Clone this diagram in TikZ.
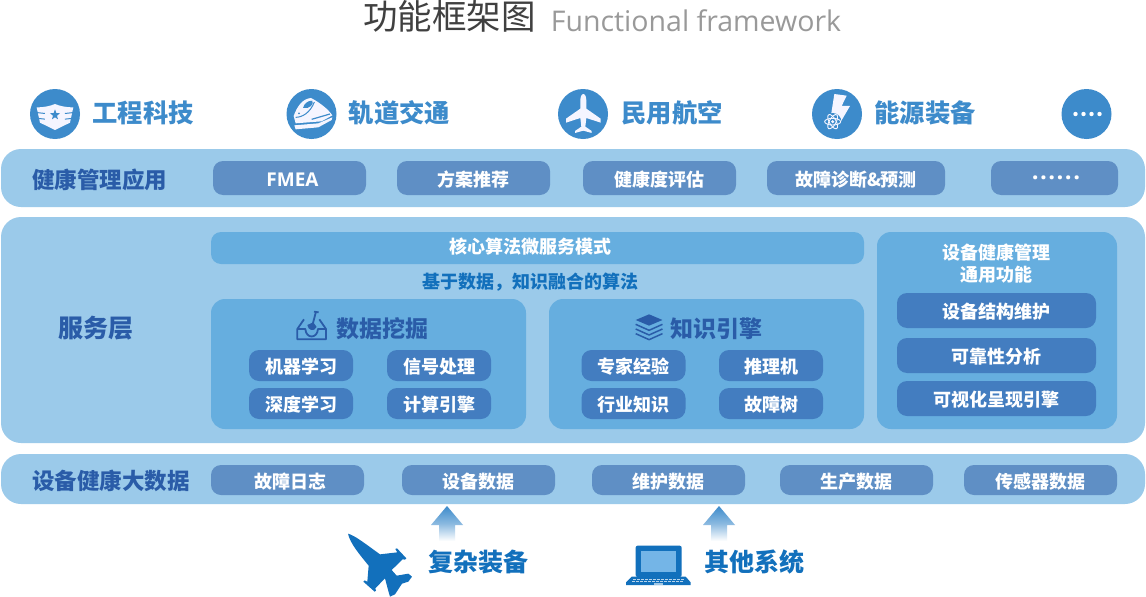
\documentclass[tikz,border=0pt]{standalone}
\usepackage{fontspec}
\usepackage{xcolor}
\setmainfont{Noto Sans CJK SC}
\newfontfamily\latinfont{Open Sans}
\usetikzlibrary{positioning}
\usetikzlibrary{shapes.geometric}
\definecolor{bandblue}{HTML}{9BCAEA}
\definecolor{panelblue}{HTML}{66AEDF}
\definecolor{chipblue}{HTML}{5F8FC5}
\definecolor{deepblue}{HTML}{437DC0}
\definecolor{iconblue}{HTML}{3D8BCB}
\definecolor{navyblue}{HTML}{2A5CA8}
\definecolor{seablue}{HTML}{1270BC}
\definecolor{screenblue}{HTML}{74B5E7}
\newcommand{\fsize}[1]{\fontsize{#1}{#1}\selectfont}

\begin{document}
\begin{tikzpicture}[
		x=1pt, y=-1pt,
		every node/.style={outer sep=0pt},
		band/.style={rectangle, fill=bandblue, rounded corners=20pt, minimum width=1144pt, inner sep=0pt},
		panel/.style={rectangle, fill=panelblue, rounded corners=14pt, inner sep=0pt},
		chip/.style={rectangle, fill=chipblue, rounded corners=10pt, inner sep=0pt, minimum width=153pt, minimum height=34pt, text=white, text height=18.5pt, text depth=2pt, font=\fsize{18}\bfseries},
		datachip/.style={chip, minimum height=30pt},
		algochip/.style={chip, fill=deepblue, minimum width=104pt, minimum height=31pt},
		funcchip/.style={chip, fill=deepblue, minimum width=199pt, minimum height=35pt},
		ball/.style={circle, fill=iconblue, minimum size=50pt, inner sep=0pt},
		field/.style={text=iconblue, font=\fsize{25.3}\bfseries, inner sep=0pt},
		layer/.style={text=navyblue, font=\fsize{22.5}\bfseries, inner sep=0pt},
		source/.style={text=seablue, font=\fsize{25}\bfseries, inner sep=0pt},
		feedarrow/.style={top color=iconblue, bottom color=white, middle color=iconblue!60!white}
		]
		\useasboundingbox (0,0) rectangle (1146,597);
		\fill[white] (0,0) rectangle (1146,597);
		
		% Title
		\node[inner sep=0pt, text=black!75, font=\fsize{34.5}] (title) at (449.5,16) {功能框架图};
		\node[inner sep=0pt, text=black!40, font=\latinfont\fsize{28.5}] (titleen) at (696,21) {Functional framework};
		
		% Fields (top row)
		\node[ball] (tech) at (55,114) {};
		\node[ball] (rail) at (311.5,114) {};
		\node[ball] (civil) at (583,114) {};
		\node[ball] (energy) at (837,114) {};
		\node[ball] (more) at (1086.5,114) {};
		\node[field] (techtext) at (143,113) {工程科技};
		\node[field] (railtext) at (399.5,113) {轨道交通};
		\node[field] (civiltext) at (672,113) {民用航空};
		\node[field] (energytext) at (925,113) {能源装备};
		
		% Field icons
		\begin{scope}[shift={(20,80)}, scale=0.3333]
			\fill[white!96!blue] (50,82) .. controls (75,82) and (90,78) .. (105,72) .. controls (120,78) and (135,82) .. (160,82) -- (150,128) -- (105,150) -- (60,128) -- cycle;
			\foreach \y in {96,113} {
				\fill[iconblue] (48,\y) -- (75,\y+3) -- (75,\y+6) -- (48,\y+3) -- cycle;
				\fill[iconblue] (162,\y) -- (135,\y+3) -- (135,\y+6) -- (162,\y+3) -- cycle;
			}
			\fill[iconblue] (105,88) -- (109,99) -- (120,100) -- (111,107) -- (114,118) -- (105,112) -- (96,118) -- (99,107) -- (90,100) -- (101,99) -- cycle;
		\end{scope}
		\begin{scope}[shift={(275,80)}, scale=0.3333]
			\fill[white!96!blue] (56,108) .. controls (66,80) and (82,56) .. (108,54) .. controls (135,68) and (160,88) .. (172,106) -- (140,124) -- (62,130) -- cycle;
			\fill[white!96!blue] (58,136) -- (130,130) -- (172,112) -- (170,120) -- (130,142) -- (62,148) -- cycle;
			\fill[iconblue] (84,84) .. controls (88,70) and (98,62) .. (112,62) .. controls (118,72) and (104,88) .. (84,84) -- cycle;
			\draw[iconblue, line width=1pt] (62,112) .. controls (80,112) and (105,100) .. (118,66);
			\draw[iconblue, line width=1.2pt] (110,118) -- (165,102);
			\fill[iconblue] (72,100) circle (3);
		\end{scope}
		\begin{scope}[shift={(550,80)}, scale=0.3333]
			\fill[white!96!blue] (100,42) .. controls (106,42) and (109,52) .. (109,62) -- (109,86) -- (152,116) -- (152,128) -- (109,114) -- (106,140) -- (125,153) -- (125,159) -- (100,152) -- (75,159) -- (75,153) -- (94,140) -- (91,114) -- (48,128) -- (48,116) -- (91,86) -- (91,62) .. controls (91,52) and (94,42) .. (100,42) -- cycle;
		\end{scope}
		\begin{scope}[shift={(800,80)}, scale=0.3333]
			\fill[white!96!blue] (103,42) -- (140,47) -- (125,78) -- (150,78) -- (116,136) -- (92,112) -- cycle;
			\fill[iconblue] (98,125) circle (26);
			\foreach \a in {0,60,120} {
				\draw[white!96!blue, line width=0.9pt, rotate around={\a:(98,125)}] (98,125) ellipse (24 and 10);
			}
			\fill[white!96!blue] (98,125) circle (5);
		\end{scope}
		\foreach \x in {1075.5,1083.5,1091.5,1099.5} {
			\fill[white] (\x,114) circle (2.2);
		}
		
		% Application layer
		\node[band, minimum height=58pt] (appband) at (573,178) {};
		\node[layer, right=31pt of appband.west, yshift=-2pt] (applabel) {健康管理应用};
		\node[chip] (fmea) at (289.5,178) {\hspace*{6pt}\latinfont\bfseries\fsize{19}FMEA};
		\node[chip, right=31pt of fmea] (plan) {方案推荐};
		\node[chip, right=33pt of plan] (assess) {健康度评估};
		\node[chip, minimum width=178pt, right=31pt of assess] (predict) {故障诊断\&预测};
		\node[chip, minimum width=127pt, right=46pt of predict] (appmore) {\hspace*{3pt}\raisebox{6.5pt}{\latinfont\bfseries\fsize{24}\addfontfeature{LetterSpace=6}......}};
		
		% Service layer
		\node[band, minimum height=226pt] (svcband) at (573,330) {};
		\node[layer, font=\fsize{25}\bfseries] (svclabel) at (95.5,328) {服务层};
		\node[panel, rounded corners=10pt, minimum width=653pt, minimum height=32pt] (core) at (537.5,248) {};
		\node[inner sep=0pt, text=white, font=\fsize{18}\bfseries] (coretext) at (530.5,246.5) {核心算法微服务模式};
		\node[inner sep=0pt, text=seablue, font=\fsize{18}\bfseries] (fusion) at (530,282) {基于数据，知识融合的算法};
		
		% Data mining panel
		\node[panel, minimum width=315pt, minimum height=130pt] (mining) at (368.5,364) {};
		\node[layer, font=\fsize{23}\bfseries, text=navyblue] (miningtext) at (382,329) {数据挖掘};
		\node[algochip] (learn) at (301,365.5) {机器学习};
		\node[algochip, right=34pt of learn] (signal) {信号处理};
		\node[algochip, below=7pt of learn] (deep) {深度学习};
		\node[algochip, below=7pt of signal] (engine) {计算引擎};
		\begin{scope}[shift={(200,225)}, scale=0.3333, navyblue, line width=1.8pt, line join=round]
			\draw (312,283) -- (292,312) -- (292,343) -- (378,343) -- (378,312) -- (358,283);
			\draw (292,312) -- (316,312) .. controls (318,342) and (352,342) .. (354,312) -- (378,312);
			\fill (322,300) .. controls (324,316) and (342,322) .. (350,306) -- (340,292) -- cycle;
			\draw (338,298) -- (348,260);
			\draw (342,260) -- (356,262);
		\end{scope}
		
		% Knowledge engine panel
		\node[panel, minimum width=315pt, minimum height=130pt] (knowledge) at (706.5,364) {};
		\node[layer, font=\fsize{23}\bfseries] (knowledgetext) at (716,329) {知识引擎};
		\node[algochip] (expert) at (633.5,365.5) {专家经验};
		\node[algochip, right=33.5pt of expert] (infer) {推理机};
		\node[algochip, below=7pt of expert] (industry) {行业知识};
		\node[algochip, below=7pt of infer] (tree) {故障树};
		\begin{scope}[shift={(540,225)}, xscale=0.3827, yscale=0.3333, navyblue, line width=1.5pt, line join=round]
			\fill (285,268) -- (320,285) -- (285,302) -- (250,285) -- cycle;
			\foreach \y in {298,312,326} {
				\draw (250,\y) -- (285,\y+18) -- (320,\y);
			}
		\end{scope}
		
		% General functions panel
		\node[panel, minimum width=240pt, minimum height=197pt] (general) at (997,330.5) {};
		\node[inner sep=0pt, align=center, text=white, font=\fontsize{18}{22}\selectfont\bfseries] (generaltext) at (996.5,264) {设备健康管理\\通用功能};
		\node[funcchip] (structure) at (996.5,310.5) {设备结构维护};
		\node[funcchip, below=10pt of structure] (reliable) {可靠性分析};
		\node[funcchip, below=8pt of reliable] (visual) {可视化呈现引擎};
		
		% Big data layer
		\node[band, minimum height=50pt] (databand) at (573,479) {};
		\node[layer, right=31pt of databand.west, yshift=-2pt] (datalabel) {设备健康大数据};
		\node[datachip] (faultlog) at (287.5,480) {\hspace*{6pt}故障日志};
		\node[datachip, right=38pt of faultlog] (equip) {设备数据};
		\node[datachip, right=37pt of equip] (maint) {维护数据};
		\node[datachip, right=35pt of maint] (prod) {生产数据};
		\node[datachip, right=31pt of prod] (sensor) {传感器数据};
		
		% Sources
		\shade[feedarrow] (447,506) -- (463,525) -- (455,525) -- (455,541) -- (439,541) -- (439,525) -- (431,525) -- cycle;
		\shade[feedarrow] (719,506) -- (735,525) -- (727,525) -- (727,541) -- (711,541) -- (711,525) -- (703,525) -- cycle;
		\node[source] (complex) at (478,562) {复杂装备};
		\node[source] (other) at (754.5,562) {其他系统};
		\begin{scope}[shift={(340,525)}, scale=0.3333]
			\fill[seablue] (24,26) .. controls (45,32) and (70,52) .. (120,88) -- (172,82) -- (166,72) -- (171,70) -- (199,100) -- (195,104) -- (188,103) -- (155,135) -- (170,152) -- (205,146) -- (216,155) -- (205,170) -- (186,176) -- (165,208) -- (150,215) -- (145,198) -- (135,160) -- (106,190) -- (108,197) -- (104,200) -- (70,170) -- (74,166) -- (82,170) -- (86,122) .. controls (60,90) and (30,55) .. (24,26) -- cycle;
		\end{scope}
		\begin{scope}[shift={(620,535)}, scale=0.3333]
			\fill[seablue, rounded corners=2pt] (47,32) rectangle (185,126);
			\fill[screenblue] (63,47) rectangle (168,112);
			\fill[seablue] (35,125) -- (197,125) -- (212,142) -- (212,150) -- (18,150) -- (18,142) -- cycle;
			\foreach \x in {40,52,...,190} {
				\fill[white!70!seablue] (\x,131) rectangle +(7,2);
				\fill[white!70!seablue] (\x-3,137) rectangle +(7,2);
			}
			\fill[white!60!seablue] (102,144) rectangle (130,150);
		\end{scope}
		
	\end{tikzpicture}
\end{document}
